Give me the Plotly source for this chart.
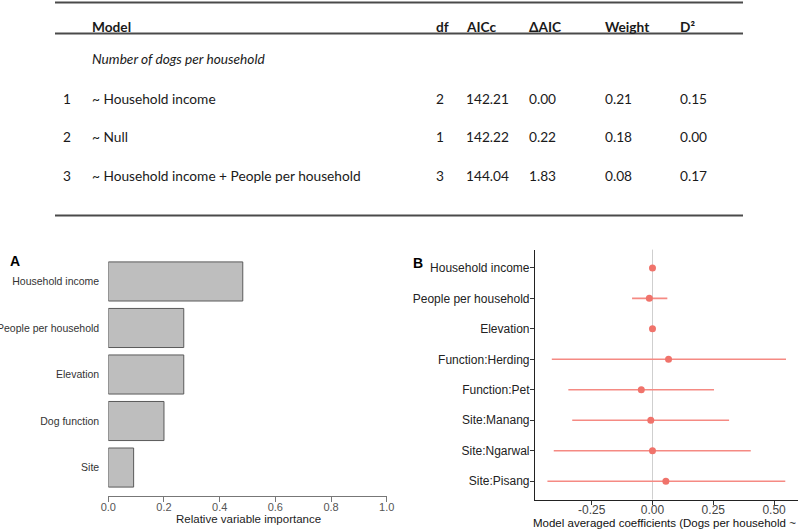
import plotly.graph_objects as go

W, H = 800, 529

# ---------------- data ----------------
table_header = ["Model", "df", "AICc", "ΔAIC", "Weight", "D²"]
table_group = "Number of dogs per household"
row_ids = ["1", "2", "3"]
row_models = ["~ Household income", "~ Null", "~ Household income + People per household"]
row_df = ["2", "1", "3"]
row_aicc = ["142.21", "142.22", "144.04"]
row_daic = ["0.00", "0.22", "1.83"]
row_weight = ["0.21", "0.18", "0.08"]
row_d2 = ["0.15", "0.00", "0.17"]

imp_vars = ["Household income", "People per household", "Elevation", "Dog function", "Site"]
imp_vals = [0.483, 0.271, 0.271, 0.200, 0.091]
imp_ticks = [0.0, 0.2, 0.4, 0.6, 0.8, 1.0]

coef_vars = ["Household income", "People per household", "Elevation", "Function:Herding",
             "Function:Pet", "Site:Manang", "Site:Ngarwal", "Site:Pisang"]
coef_est = [0.000, -0.013, 0.000, 0.066, -0.046, -0.007, 0.000, 0.055]
coef_lo = [-0.002, -0.084, -0.002, -0.414, -0.346, -0.330, -0.406, -0.432]
coef_hi = [0.002, 0.061, 0.002, 0.549, 0.253, 0.315, 0.404, 0.546]
coef_ticks = [-0.25, 0.0, 0.25, 0.50]
coef_ticklabels = ["-0.25", "0.00", "0.25", "0.50"]


def px(x):
    return x / W


def py(y):
    return 1 - y / H


fig = go.Figure()

# ---------------- panel A: bars ----------------
fig.add_trace(go.Bar(
    x=imp_vals, y=list(range(len(imp_vars))), orientation="h", width=0.84,
    marker=dict(color="#BEBEBE", line=dict(color="#5a5a5a", width=1)),
    xaxis="x", yaxis="y", showlegend=False, hoverinfo="skip",
))

# ---------------- panel B: coefficients ----------------
pos = list(range(len(coef_vars)))
for i in pos:
    fig.add_trace(go.Scatter(
        x=[coef_lo[i], coef_hi[i]], y=[i, i], mode="lines",
        line=dict(color="#F58A83", width=1.6),
        xaxis="x2", yaxis="y2", showlegend=False, hoverinfo="skip",
    ))
fig.add_trace(go.Scatter(
    x=coef_est, y=pos, mode="markers",
    marker=dict(color="#F0736B", size=7),
    xaxis="x2", yaxis="y2", showlegend=False,
))

sans = "Liberation Sans, Arial, sans-serif"
tfont = "Lato, Open Sans, sans-serif"

fig.update_layout(
    width=W, height=H, margin=dict(l=0, r=0, t=0, b=0, autoexpand=False),
    paper_bgcolor="white", plot_bgcolor="white",
    font=dict(family=sans),
    xaxis=dict(
        domain=[px(108.3), px(386.7)], range=[0, 1], anchor="free", position=py(496),
        tickvals=imp_ticks, ticktext=[f"{v:.1f}" for v in imp_ticks],
        showgrid=False, zeroline=False, showline=True, linecolor="#777", linewidth=1,
        ticks="outside", ticklen=5, tickcolor="#777", automargin=False, ticklabelstandoff=-4,
        tickfont=dict(size=11, color="#555", family=sans),
    ),
    yaxis=dict(
        domain=[py(490.8), py(258.2)], range=[4.5, -0.5], anchor="x",
        tickvals=list(range(len(imp_vars))), ticktext=imp_vars,
        showgrid=False, zeroline=False, showline=False, automargin=False,
        ticks="outside", ticklen=6, tickcolor="rgba(0,0,0,0)",
        tickfont=dict(size=10.5, color="#333", family=sans),
    ),
    xaxis2=dict(
        domain=[px(535), px(798)], range=[-0.4831, 0.5983], anchor="y2",
        tickvals=coef_ticks, ticktext=coef_ticklabels, automargin=False, ticklabelstandoff=-5,
        showgrid=False, zeroline=False, showline=True, linecolor="#222", linewidth=1.2,
        ticks="outside", ticklen=4, tickcolor="#333",
        tickfont=dict(size=12, color="#444", family=sans),
    ),
    yaxis2=dict(
        domain=[py(499.5), py(249.6)], range=[7.6, -0.6], anchor="x2",
        tickvals=pos, ticktext=coef_vars, automargin=False, ticklabelstandoff=-2,
        showgrid=False, zeroline=False, showline=True, linecolor="#222", linewidth=1.2,
        ticks="outside", ticklen=4, tickcolor="#333",
        tickfont=dict(size=12, color="#222", family=sans),
    ),
)

# zero reference line in panel B
fig.add_shape(type="line", xref="x2", yref="paper", x0=0, x1=0,
              y0=py(499.5), y1=py(249.6), line=dict(color="#cfcfcf", width=1), layer="below")

# ---------------- table ----------------
for yy in [2.5, 33.5, 215.5]:
    fig.add_shape(type="line", xref="paper", yref="paper", x0=px(55), x1=px(743),
                  y0=py(yy), y1=py(yy), line=dict(color="#4a4a4a", width=2))

col_x = [90, 434, 464, 527, 603, 678]


def txt(x, y, s, size=13.7, bold=False, italic=False, color="#1a1a1a", family=tfont, anchor="left"):
    if bold:
        s = f"<b>{s}</b>"
    if italic:
        s = f"<i>{s}</i>"
    fig.add_annotation(x=px(x), y=py(y), xref="paper", yref="paper", text=s, showarrow=False,
                       xanchor=anchor, yanchor="middle",
                       font=dict(size=size, color=color, family=family))


for cx, h in zip(col_x, table_header):
    txt(cx, 26, h, bold=True)
txt(90, 58, table_group, italic=True)

row_y = [98, 136.5, 175]
for i, ry in enumerate(row_y):
    txt(61, ry, row_ids[i])
    vals = [row_models[i], row_df[i], row_aicc[i], row_daic[i], row_weight[i], row_d2[i]]
    for cx, v in zip(col_x, vals):
        txt(cx, ry, v)

# panel labels and axis titles
txt(8, 261, "A", size=14, bold=True, color="#000", family=sans)
txt(411, 263, "B", size=14, bold=True, color="#000", family=sans)
txt(248, 519, "Relative variable importance", size=11.5, color="#222", family=sans, anchor="center")
txt(531, 522.5, "Model averaged coefficients (Dogs per household ~", size=11.5, color="#111", family=sans)

fig.write_html("out.html", config={"displayModeBar": False},
               post_script="document.body.style.margin='0px';document.body.style.overflow='hidden';")
